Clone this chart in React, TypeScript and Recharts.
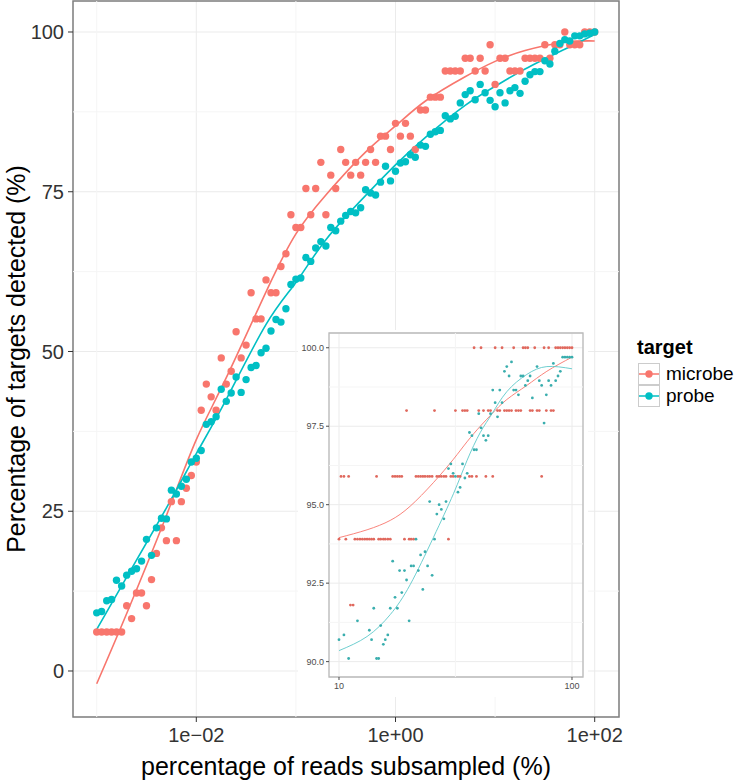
import {
  ComposedChart,
  Scatter,
  Line,
  XAxis,
  YAxis,
  CartesianGrid,
  ReferenceLine,
  ReferenceArea,
} from "recharts";

const MICROBE = "#F8766D";
const PROBE = "#00BFC4";
const FONT = "'Liberation Sans', Arial, Helvetica, sans-serif";

// main panel: percentage of reads subsampled (shared by both targets)
const readsPct = [
  0.001, 0.00112, 0.00126, 0.00141, 0.00158, 0.00178, 0.002, 0.00224, 0.00251, 0.00282,
  0.00316, 0.00355, 0.00398, 0.00447, 0.00501, 0.00562, 0.00631, 0.00708, 0.00794, 0.00891,
  0.01, 0.0112, 0.0126, 0.0141, 0.0158, 0.0178, 0.02, 0.0224, 0.0251, 0.0282,
  0.0316, 0.0355, 0.0398, 0.0447, 0.0501, 0.0562, 0.0631, 0.0708, 0.0794, 0.0891,
  0.1, 0.112, 0.126, 0.141, 0.158, 0.178, 0.2, 0.224, 0.251, 0.282,
  0.316, 0.355, 0.398, 0.447, 0.501, 0.562, 0.631, 0.708, 0.794, 0.891,
  1, 1.12, 1.26, 1.41, 1.58, 1.78, 2, 2.24, 2.51, 2.82,
  3.16, 3.55, 3.98, 4.47, 5.01, 5.62, 6.31, 7.08, 7.94, 8.91,
  10, 11.2, 12.6, 14.1, 15.8, 17.8, 20, 22.4, 25.1, 28.2,
  31.6, 35.5, 39.8, 44.7, 50.1, 56.2, 63.1, 70.8, 79.4, 89.1, 100,
];

const microbeDetected = [
  6.1, 6.1, 6.1, 6.1, 6.1, 6.1, 10.2, 8.2, 12.2, 12.2,
  10.2, 14.3, 18.4, 22.4, 20.4, 26.5, 20.4, 26.5, 28.6, 30.6,
  32.7, 40.8, 44.9, 42.9, 40.8, 49.0, 44.9, 46.9, 53.1, 49.0,
  51.0, 59.2, 55.1, 55.1, 61.2, 59.2, 59.2, 63.3, 65.3, 71.4,
  69.4, 69.4, 75.5, 71.4, 75.5, 79.6, 71.4, 77.6, 75.5, 81.6,
  79.6, 77.6, 79.6, 77.6, 79.6, 81.6, 79.6, 83.7, 83.7, 81.6,
  85.7, 83.7, 85.7, 83.7, 81.6, 87.8, 87.8, 89.8, 89.8, 89.8,
  93.9, 93.9, 93.9, 93.9, 95.9, 95.9, 93.9, 95.9, 93.9, 98.0,
  91.8, 95.9, 95.9, 93.9, 93.9, 93.9, 95.9, 95.9, 95.9, 95.9,
  98.0, 95.9, 98.0, 98.0, 100, 98.0, 98.0, 98.0, 100, 100, 100,
];

const probeDetected = [
  9.1, 9.3, 11.0, 11.2, 14.2, 13.3, 15.0, 15.6, 16.0, 17.2,
  20.6, 18.1, 22.4, 23.9, 23.8, 28.3, 27.7, 28.9, 30.0, 32.7,
  33.3, 34.5, 38.6, 39.0, 39.8, 44.1, 42.2, 43.5, 46.0, 43.6,
  45.6, 47.5, 47.8, 49.8, 50.5, 53.2, 55.0, 54.6, 56.7, 60.5,
  61.3, 61.5, 64.7, 64.1, 66.2, 67.2, 66.5, 69.4, 68.9, 70.4,
  71.3, 71.9, 71.7, 72.5, 75.3, 74.8, 74.5, 76.5, 79.0, 76.7,
  78.2, 79.5, 79.7, 80.8, 80.4, 82.3, 82.1, 84.0, 84.4, 84.6,
  86.9, 86.4, 86.8, 88.9, 90.2, 90.8, 89.4, 91.8, 90.5, 89.3,
  88.3, 90.5, 88.9, 90.8, 91.3, 90.4, 92.3, 93.3, 93.8, 93.8,
  95.5, 95.0, 97.0, 98.2, 98.8, 98.6, 99.4, 99.4, 99.7, 99.8, 100,
];

// smoothed fits
const fitPct = [0.001, 0.002, 0.005, 0.01, 0.02, 0.05, 0.1, 0.2, 0.5, 1, 2, 5, 10, 20, 50, 100];
const microbeFit = [-2.0, 9.0, 24.3, 36.2, 45.9, 59.3, 68.4, 74.5, 81.2, 85.3, 89.2, 93.0, 95.4, 97.1, 98.4, 98.6];
const probeFit = [6.5, 14.7, 25.5, 34.0, 42.5, 54.2, 60.8, 67.5, 74.4, 79.2, 83.5, 88.5, 91.5, 94.2, 97.3, 99.6];

// inset: 10% .. 100% of reads
const insetPct = [
  10, 10.2, 10.5, 10.7, 11.0, 11.2, 11.5, 11.7, 12.0, 12.3,
  12.6, 12.9, 13.2, 13.5, 13.8, 14.1, 14.5, 14.8, 15.1, 15.5,
  15.8, 16.2, 16.6, 17.0, 17.4, 17.8, 18.2, 18.6, 19.1, 19.5,
  20.0, 20.4, 20.9, 21.4, 21.9, 22.4, 22.9, 23.4, 24.0, 24.5,
  25.1, 25.7, 26.3, 26.9, 27.5, 28.2, 28.8, 29.5, 30.2, 30.9,
  31.6, 32.4, 33.1, 33.9, 34.7, 35.5, 36.3, 37.2, 38.0, 38.9,
  39.8, 40.7, 41.7, 42.7, 43.7, 44.7, 45.7, 46.8, 47.9, 49.0,
  50.1, 51.3, 52.5, 53.7, 55.0, 56.2, 57.5, 58.9, 60.3, 61.7,
  63.1, 64.6, 66.1, 67.6, 69.2, 70.8, 72.4, 74.1, 75.9, 77.6,
  79.4, 81.3, 83.2, 85.1, 87.1, 89.1, 91.2, 93.3, 95.5, 97.7, 100,
];

const insetMicrobe = [
  93.9, 95.9, 95.9, 93.9, 95.9, 91.8, 91.8, 93.9, 93.9, 93.9,
  93.9, 93.9, 93.9, 93.9, 93.9, 93.9, 95.9, 93.9, 93.9, 93.9,
  93.9, 93.9, 93.9, 95.9, 95.9, 95.9, 95.9, 95.9, 93.9, 98.0,
  93.9, 93.9, 93.9, 95.9, 95.9, 95.9, 95.9, 95.9, 95.9, 95.9,
  95.9, 98.0, 95.9, 95.9, 95.9, 95.9, 95.9, 93.9, 95.9, 95.9,
  98.0, 95.9, 95.9, 98.0, 98.0, 98.0, 95.9, 95.9, 100, 95.9,
  98.0, 100, 98.0, 95.9, 98.0, 98.0, 95.9, 100, 98.0, 98.0,
  100, 98.0, 98.0, 98.0, 98.0, 100, 98.0, 98.0, 98.0, 100,
  100, 100, 98.0, 98.0, 100, 98.0, 98.0, 95.9, 100, 98.0,
  100, 98.0, 98.0, 100, 100, 100, 100, 100, 100, 100, 100,
];

const insetProbe = [
  90.7, null, 90.85, null, 90.1, null, null, null, 91.3, null,
  null, null, null, 91.0, 90.7, 91.7, 90.1, 90.1, 91.15, 90.55,
  90.7, 90.85, 91.7, 93.2, 92.05, 91.7, 92.9, 92.2, 92.9, 92.6,
  91.3, 93.05, 93.05, 93.9, 92.9, 93.4, 92.3, 93.5, 93.05, 95.1,
  92.75, 93.9, 94.7, 95.0, 94.85, 94.55, 95.1, 96.15, 96.3, 96.0,
  95.9, 95.4, 95.55, 96.3, 95.85, 96.0, 97.3, 97.2, 96.75, 96.75,
  97.9, 97.45, 97.2, 97.05, 97.2, 97.9, 98.65, 98.25, 97.8, 98.65,
  98.25, 99.25, 99.4, 99.1, 99.55, 98.65, 98.65, 98.5, 99.1, 99.1,
  98.8, 98.95, 99.1, 98.4, null, 99.4, 98.95, 98.8, 97.6, 98.5,
  98.95, 98.8, 99.5, 98.95, 99.1, 99.25, 99.7, 99.7, 99.7, 99.7, 99.7,
];

const insetFitPct = [10, 13.2, 16.6, 20.2, 25.4, 31, 35.4, 40.4, 45.4, 52.5, 64, 78, 100];
const insetMicrobeFit = [93.95, 94.2, 94.5, 94.95, 95.7, 96.45, 97.0, 97.5, 97.9, 98.35, 98.8, 99.25, 99.7];
const insetProbeFit = [90.35, 90.8, 91.5, 92.45, 93.95, 95.35, 96.4, 97.3, 97.9, 98.6, 99.15, 99.4, 99.33];

const targets = [
  { name: "microbe", color: MICROBE },
  { name: "probe", color: PROBE },
];

const toPoints = (xs: number[], ys: (number | null)[]) =>
  xs.map((x, i) => ({ x, y: ys[i] })).filter((p) => p.y != null);

const dot = (r: number, fill: string) => (props: any) =>
  <circle cx={props.cx} cy={props.cy} r={r} fill={fill} />;

const sci = (v: number) => {
  const e = Math.round(Math.log10(v));
  return `1e${e < 0 ? "\u2212" : "+"}${String(Math.abs(e)).padStart(2, "0")}`;
};

const mainX: [number, number] = [0.000578, 175.4];
const mainY: [number, number] = [-7.2, 104.85];
const insetX: [number, number] = [9.06, 111.5];
const insetY: [number, number] = [89.51, 100.47];

function Inset() {
  return (
    <div style={{ position: "absolute", left: 298, top: 330, background: "#fff" }}>
      <ComposedChart width={290} height={367} margin={{ top: 3, right: 5, bottom: 0, left: 0 }}>
        <ReferenceLine x={31.6} stroke="#f5f5f5" ifOverflow="hidden" />
        {[91.25, 93.75, 96.25, 98.75].map((v) => (
          <ReferenceLine key={v} y={v} stroke="#f5f5f5" />
        ))}
        <CartesianGrid stroke="#ebebeb" />
        <XAxis
          type="number"
          dataKey="x"
          scale="log"
          domain={insetX}
          allowDataOverflow
          ticks={[10, 100]}
          height={20}
          tickSize={3}
          tickMargin={3}
          axisLine={false}
          tickLine={{ stroke: "#4d4d4d" }}
          tick={{ fontSize: 9, fill: "#4d4d4d" }}
        />
        <YAxis
          type="number"
          dataKey="y"
          domain={insetY}
          allowDataOverflow
          ticks={[90, 92.5, 95, 97.5, 100]}
          tickFormatter={(v: number) => v.toFixed(1)}
          width={31}
          tickSize={3}
          tickMargin={2}
          axisLine={false}
          tickLine={{ stroke: "#4d4d4d" }}
          tick={{ fontSize: 9, fill: "#4d4d4d" }}
        />
        <ReferenceArea x1={insetX[0]} x2={insetX[1]} y1={insetY[0]} y2={insetY[1]} fill="none" stroke="#bbbbbb" strokeWidth={1.3} />
        <Scatter data={toPoints(insetPct, insetMicrobe)} shape={dot(1.4, "#e0685d")} isAnimationActive={false} />
        <Scatter data={toPoints(insetPct, insetProbe)} shape={dot(1.4, "#3aaeae")} isAnimationActive={false} />
        <Line data={toPoints(insetFitPct, insetMicrobeFit)} dataKey="y" type="natural" stroke={MICROBE} strokeWidth={0.9} dot={false} isAnimationActive={false} />
        <Line data={toPoints(insetFitPct, insetProbeFit)} dataKey="y" type="natural" stroke="#5ec8ca" strokeWidth={0.9} dot={false} isAnimationActive={false} />
      </ComposedChart>
    </div>
  );
}

function LegendBox() {
  return (
    <div style={{ position: "absolute", left: 637, top: 336, fontFamily: FONT, color: "#000" }}>
      <div style={{ fontWeight: "bold", fontSize: 20, marginBottom: 4 }}>target</div>
      {targets.map((t) => (
        <div key={t.name} style={{ display: "flex", alignItems: "center", height: 22 }}>
          <svg width={23} height={22}>
            <rect x={1.5} y={0.5} width={21} height={21} fill="#fff" stroke="#cccccc" />
            <line x1={2} x2={22} y1={11} y2={11} stroke={t.color} strokeWidth={1.5} />
            <circle cx={12} cy={11} r={3.7} fill={t.color} />
          </svg>
          <span style={{ marginLeft: 6, fontSize: 19 }}>{t.name}</span>
        </div>
      ))}
    </div>
  );
}

export default function App() {
  return (
    <div style={{ position: "absolute", left: 0, top: 0, width: 750, height: 783, background: "#fff", fontFamily: FONT }}>
      <ComposedChart width={750} height={783} margin={{ top: 1, right: 131, bottom: 0, left: 0 }}>
        {[0.001, 0.1, 10].map((v) => (
          <ReferenceLine key={v} x={v} stroke="#f5f5f5" />
        ))}
        {[12.5, 37.5, 62.5, 87.5].map((v) => (
          <ReferenceLine key={v} y={v} stroke="#f5f5f5" />
        ))}
        <CartesianGrid stroke="#ebebeb" />
        <XAxis
          type="number"
          dataKey="x"
          scale="log"
          domain={mainX}
          allowDataOverflow
          ticks={[0.01, 1, 100]}
          tickFormatter={sci}
          height={66}
          tickSize={5}
          tickMargin={6}
          axisLine={false}
          tickLine={{ stroke: "#333" }}
          tick={{ fontSize: 20, fill: "#333" }}
          label={{ value: "percentage of reads subsampled (%)", position: "insideBottom", offset: 8, fontSize: 25, fill: "#000" }}
        />
        <YAxis
          type="number"
          dataKey="y"
          domain={mainY}
          allowDataOverflow
          ticks={[0, 25, 50, 75, 100]}
          width={73}
          tickSize={5}
          tickMargin={4}
          axisLine={false}
          tickLine={{ stroke: "#333" }}
          tick={{ fontSize: 20, fill: "#333" }}
          label={{
            value: "Percentage of targets detected (%)",
            angle: -90,
            position: "insideLeft",
            offset: 16,
            fontSize: 25,
            fill: "#000",
            style: { textAnchor: "middle" },
          }}
        />
        <ReferenceArea x1={mainX[0]} x2={mainX[1]} y1={mainY[0]} y2={mainY[1]} fill="none" stroke="#7f7f7f" strokeWidth={1.5} />
        <Scatter data={toPoints(readsPct, microbeDetected)} shape={dot(3.7, MICROBE)} isAnimationActive={false} />
        <Scatter data={toPoints(readsPct, probeDetected)} shape={dot(3.7, PROBE)} isAnimationActive={false} />
        <Line data={toPoints(fitPct, microbeFit)} dataKey="y" type="natural" stroke={MICROBE} strokeWidth={1.6} dot={false} isAnimationActive={false} />
        <Line data={toPoints(fitPct, probeFit)} dataKey="y" type="natural" stroke={PROBE} strokeWidth={1.6} dot={false} isAnimationActive={false} />
      </ComposedChart>
      <Inset />
      <LegendBox />
    </div>
  );
}
